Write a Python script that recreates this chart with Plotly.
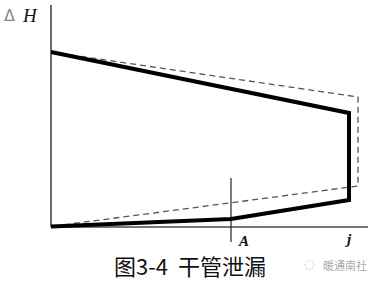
import plotly.graph_objects as go

# Positions along the main (pipe index) axis
x_labels = ["A", "j"]
x_origin = 0
x_A = 180
x_j = 298
x_j_design = 307

# Head values: actual (leak) curve, solid
solid_top_x = [x_origin, x_j]
solid_top_y = [175, 114]
solid_bottom_x = [x_origin, x_A, x_j]
solid_bottom_y = [0.5, 8, 27]

# Design curve, dashed
dash_top_x = [x_origin, x_j_design]
dash_top_y = [175, 130]
dash_bottom_x = [x_origin, x_j_design]
dash_bottom_y = [0.5, 41]

title_text = "图3-4&nbsp;&nbsp;干管泄漏"
watermark_text = "暖通南社"

fig = go.Figure()

axis_col = "#4a4a4a"
# axes
fig.add_trace(go.Scatter(x=[0, 0], y=[0, 222], mode="lines",
                         line=dict(color=axis_col, width=1.6)))
fig.add_trace(go.Scatter(x=[0, 317], y=[0, 0], mode="lines",
                         line=dict(color=axis_col, width=1.6)))
# vertical marker at A
fig.add_trace(go.Scatter(x=[x_A, x_A], y=[-15, 49], mode="lines",
                         line=dict(color="#222", width=1.2)))

# dashed design curve
fig.add_trace(go.Scatter(
    x=dash_top_x + [x_j_design] + dash_bottom_x[::-1],
    y=dash_top_y + [dash_bottom_y[-1]] + dash_bottom_y[::-1],
    mode="lines", line=dict(color="#555", width=1.3, dash="6px,4px")))

# solid actual curve
fig.add_trace(go.Scatter(
    x=solid_top_x + solid_bottom_x[::-1],
    y=solid_top_y + solid_bottom_y[::-1],
    mode="lines", line=dict(color="black", width=4)))

serif = "Liberation Serif, Times New Roman, serif"
W, H = 374, 282


def px_note(xp, yp, text, font, pad=1):
    fig.add_annotation(x=xp / W, y=1 - yp / H, xref="paper", yref="paper",
                       text=text, showarrow=False, xanchor="center",
                       yanchor="middle", font=font, borderpad=pad)


px_note(243, 241, "<i><b>A</b></i>", dict(family=serif, size=15, color="#111"), 0)
px_note(348, 239, "<i><b>j</b></i>", dict(family=serif, size=15, color="#111"), 0)
px_note(9, 15, "Δ", dict(family="DejaVu Sans", size=16, color="#888"))
px_note(30, 15, "<i>H</i>", dict(family=serif, size=19, color="#111"))
px_note(190, 265, title_text, dict(family="Noto Sans CJK SC", size=22, color="#111"), 0)
px_note(345, 265, watermark_text, dict(family="Noto Sans CJK SC", size=11, color="#aaa"))
px_note(309, 264, "◌", dict(family="DejaVu Sans", size=12, color="#bbb"))

fig.update_layout(
    width=W, height=H, margin=dict(l=0, r=0, t=0, b=0),
    paper_bgcolor="white", plot_bgcolor="white", showlegend=False,
    xaxis=dict(range=[-51, 323], visible=False, fixedrange=True),
    yaxis=dict(range=[-55, 227], visible=False, fixedrange=True),
)
fig.write_html("out.html")
